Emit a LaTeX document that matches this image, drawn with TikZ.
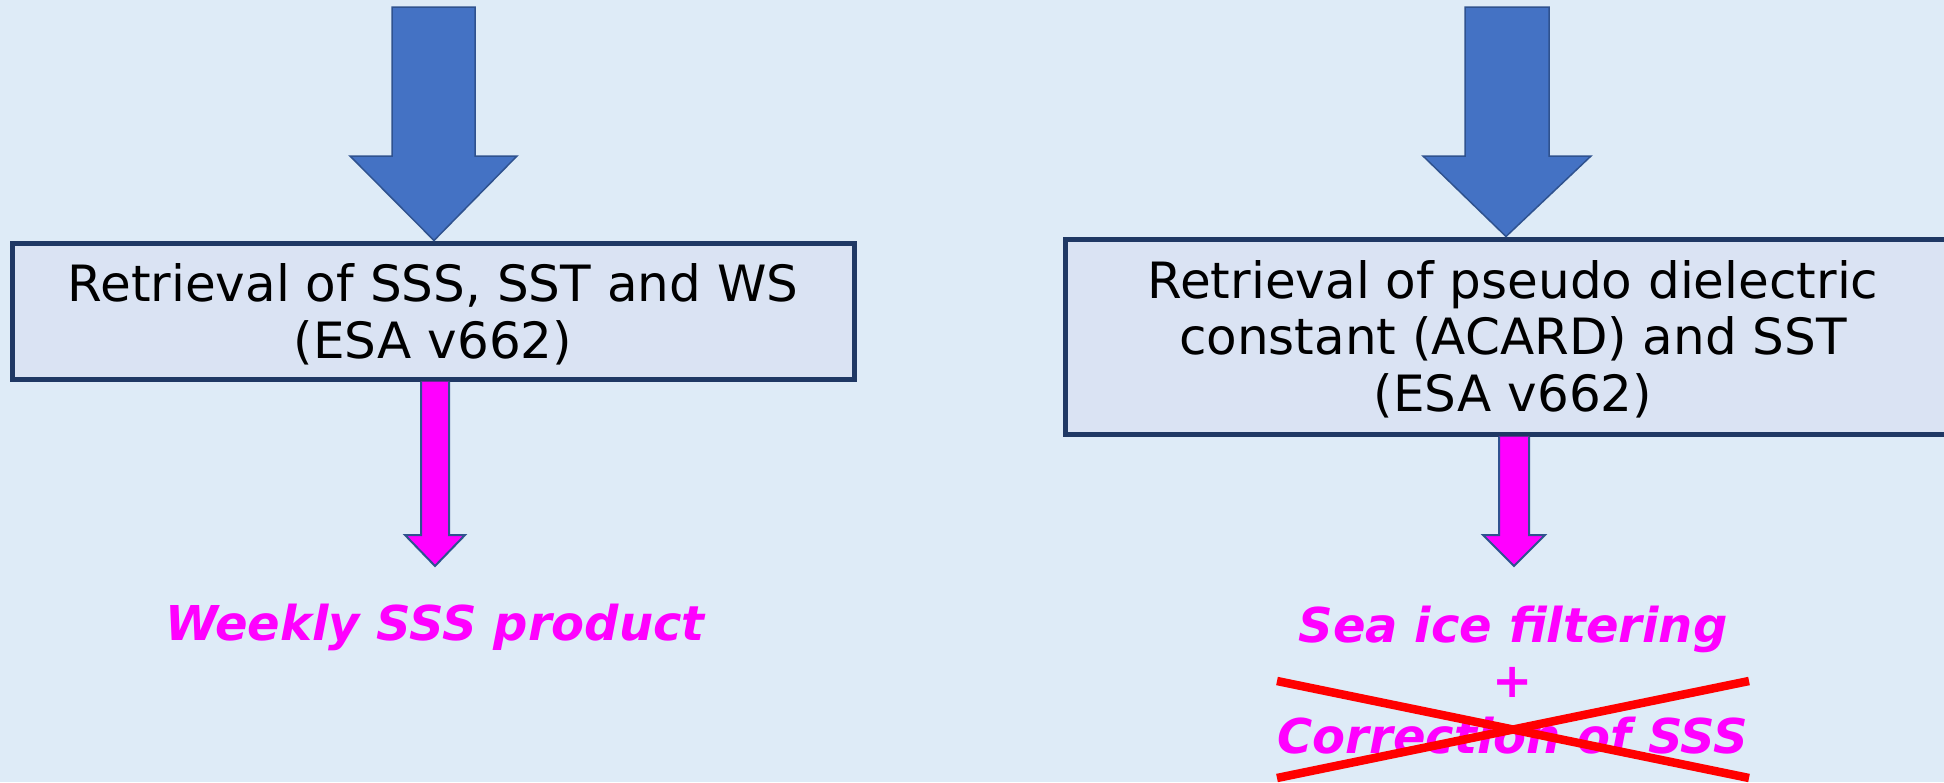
\documentclass[tikz,border=0pt]{standalone}
\usepackage{fontspec}
\setmainfont{DejaVu Sans}
\usetikzlibrary{calc}
\definecolor{bgc}{RGB}{222,235,247}
\definecolor{boxfill}{RGB}{218,227,243}
\definecolor{boxline}{RGB}{31,56,100}
\definecolor{bluearrow}{RGB}{68,114,196}
\definecolor{arrowline}{RGB}{47,82,143}
\definecolor{magenta}{RGB}{255,0,255}
\definecolor{redx}{RGB}{255,0,0}
\tikzset{
  procbox/.style={draw=boxline, line width=5pt, fill=boxfill, inner sep=0pt},
  boxtext/.style={align=center, inner sep=0pt, font=\fontsize{50}{56.5}\selectfont, text=black},
  bigarrow/.style={draw=arrowline, line width=1.5pt, fill=bluearrow},
  smallarrow/.style={draw=arrowline, line width=2pt, fill=magenta},
  outtext/.style={font=\fontsize{48}{55.5}\selectfont\bfseries\itshape, text=magenta, align=center, inner sep=0pt},
  crossline/.style={draw=redx, line width=8.5pt}
}
\begin{document}
\begin{tikzpicture}[x=1pt,y=-1pt]
\fill[bgc] (0,0) rectangle (1944,782);
\useasboundingbox (0,0) rectangle (1944,782);
% boxes
\node[procbox, minimum width=842pt, minimum height=136pt] (b1) at (433,311) {};
\node[boxtext, anchor=base] (b1t) at (433,358)
  {Retrieval of SSS, SST and WS\\(ESA v662)};
\node[procbox, minimum width=896pt, minimum height=195pt] (b2) at (1513,336.5) {};
\node[boxtext, anchor=base] (b2t) at (1513,411)
  {Retrieval of pseudo dielectric\\constant (ACARD) and SST\\(ESA v662)};
% big arrows
\draw[bigarrow] (392,7) -- (475,7) -- (475,156) -- (517,156) -- (b1.north -| 434,0) -- (350,156) -- (392,156) -- cycle;
\draw[bigarrow] (1465,7) -- (1549,7) -- (1549,156) -- (1591,156) -- (b2.north -| 1506,0) -- (1423,156) -- (1465,156) -- cycle;
% outputs
\node[outtext, anchor=base] (o1) at (435,640) {Weekly SSS product};
\node[outtext, anchor=base] (o2) at (1513,753) {Sea ice filtering\\+\\Correction of SSS};
% small arrows
\coordinate (t1) at (435,566);
\coordinate (t2) at (1514,566);
\draw[smallarrow] (b1.south -| 421,0) -- (421,535) -- (405,535) -- (t1) -- (465,535) -- (449,535) -- (b1.south -| 449,0);
\draw[smallarrow] (b2.south -| 1499,0) -- (1499,535) -- (1483,535) -- (t2) -- (1545,535) -- (1529,535) -- (b2.south -| 1529,0);
% red cross
\coordinate (xa) at (1277,681);
\coordinate (xb) at (1749,778);
\coordinate (xc) at (1277,778);
\coordinate (xd) at (1749,681);
\draw[crossline] (xa) -- (xb);
\draw[crossline] (xc) -- (xd);
\end{tikzpicture}
\end{document}
